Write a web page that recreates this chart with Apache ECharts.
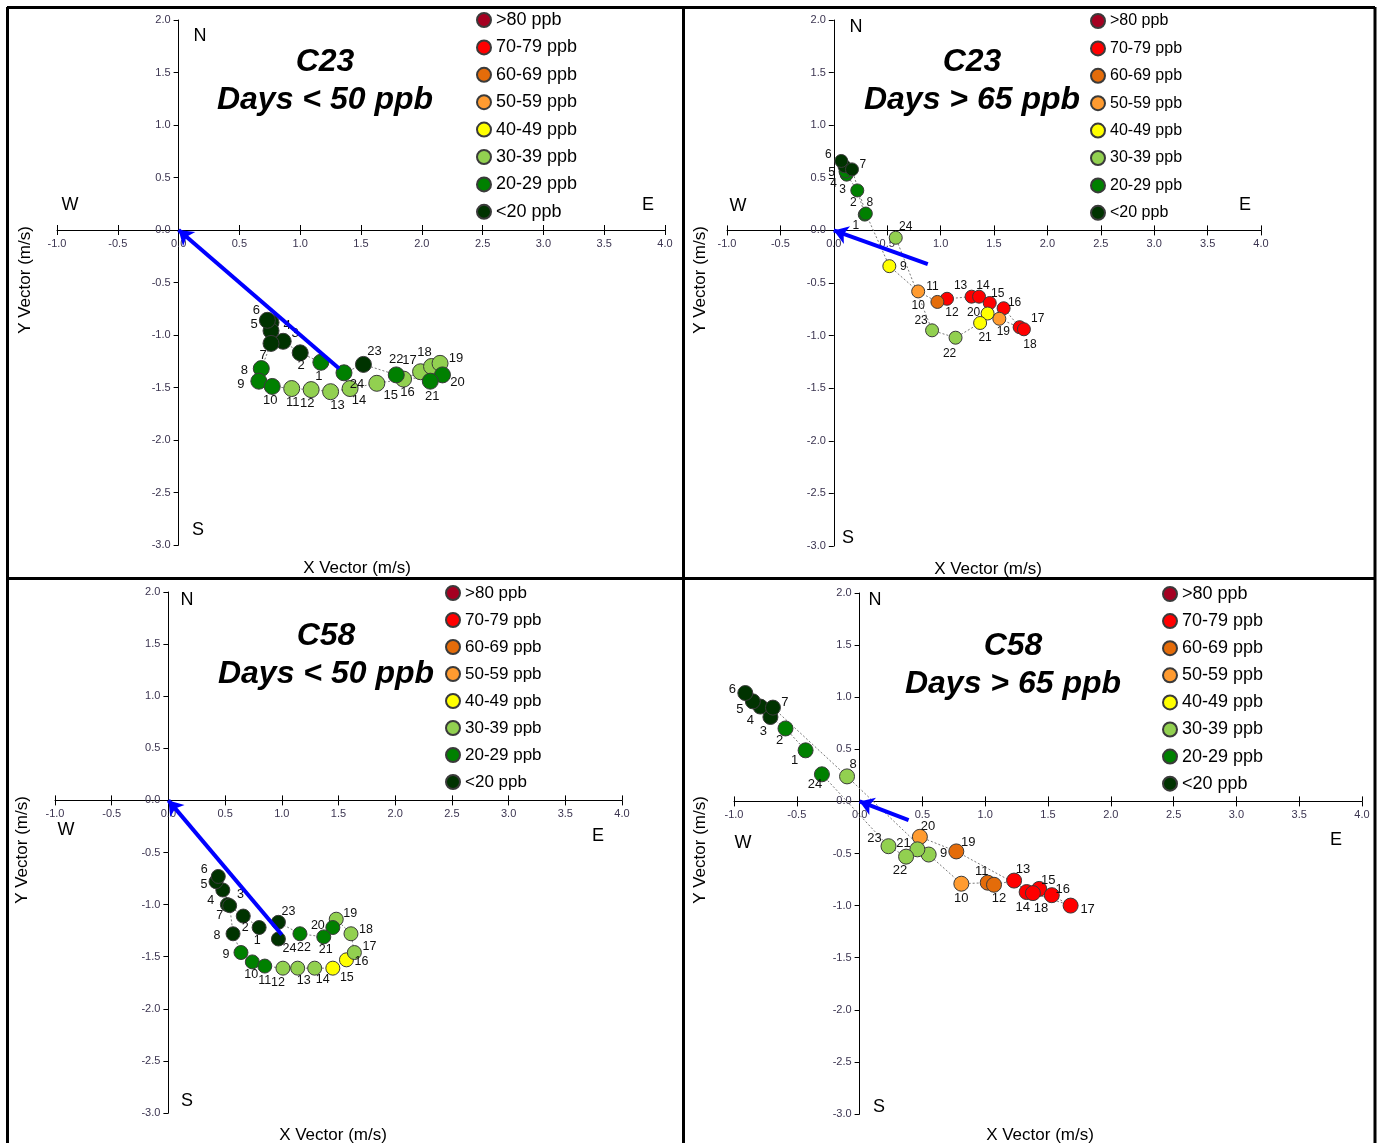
<!DOCTYPE html>
<html>
<head>
<meta charset="utf-8">
<title>C23 / C58 hourly wind vectors</title>
<script src="https://cdn.jsdelivr.net/npm/echarts@6/dist/echarts.min.js"></script>
<style>
  html, body { margin: 0; padding: 0; background: #fff; }
  #chart { width: 1380px; height: 1143px; }
</style>
</head>
<body>
<div id="chart"></div>
<script>
// Ozone concentration classes shown in every legend
const CATS = ['>80 ppb', '70-79 ppb', '60-69 ppb', '50-59 ppb', '40-49 ppb', '30-39 ppb', '20-29 ppb', '<20 ppb'];

// Hour of day for each vector point
const HOURS = [1, 2, 3, 4, 5, 6, 7, 8, 9, 10, 11, 12, 13, 14, 15, 16, 17, 18, 19, 20, 21, 22, 23, 24];

// Axis ranges (m/s)
const X_RANGE = [-1, 4];
const Y_RANGE = [-3, 2];

// C23, days < 50 ppb (x / y wind vector in m/s, class index into CATS)
const c23LowX = [1.17, 1.00, 0.86, 0.76, 0.76, 0.73, 0.76, 0.68, 0.66, 0.77, 0.93, 1.09, 1.25, 1.41, 1.63, 1.85, 1.99, 2.08, 2.15, 2.17, 2.07, 1.79, 1.52, 1.36];
const c23LowY = [-1.26, -1.17, -1.06, -0.88, -0.96, -0.86, -1.08, -1.32, -1.44, -1.49, -1.51, -1.52, -1.54, -1.51, -1.46, -1.42, -1.35, -1.30, -1.27, -1.38, -1.44, -1.38, -1.28, -1.36];
const c23LowCat = [6, 7, 7, 7, 7, 7, 7, 6, 6, 6, 5, 5, 5, 5, 5, 5, 5, 5, 5, 6, 6, 6, 7, 6];
const c23LowMean = [1.32, -1.32];

// C23, days > 65 ppb
const c23HighX = [0.29, 0.22, 0.12, 0.11, 0.10, 0.07, 0.17, 0.30, 0.52, 0.79, 0.97, 1.06, 1.29, 1.36, 1.46, 1.59, 1.74, 1.78, 1.55, 1.44, 1.37, 1.14, 0.92, 0.58];
const c23HighY = [0.15, 0.38, 0.53, 0.56, 0.61, 0.66, 0.58, 0.16, -0.34, -0.58, -0.68, -0.65, -0.63, -0.63, -0.69, -0.74, -0.92, -0.94, -0.84, -0.79, -0.88, -1.02, -0.95, -0.07];
const c23HighCat = [6, 6, 6, 6, 7, 7, 7, 6, 4, 3, 2, 1, 1, 1, 1, 1, 1, 1, 3, 4, 4, 5, 5, 5];
const c23HighMean = [0.88, -0.32];

// C58, days < 50 ppb
const c58LowX = [0.80, 0.66, 0.52, 0.48, 0.42, 0.44, 0.54, 0.57, 0.64, 0.74, 0.85, 1.01, 1.14, 1.29, 1.45, 1.57, 1.64, 1.61, 1.48, 1.45, 1.37, 1.16, 0.97, 0.97];
const c58LowY = [-1.22, -1.11, -1.00, -0.86, -0.78, -0.73, -1.01, -1.28, -1.46, -1.55, -1.59, -1.61, -1.61, -1.61, -1.61, -1.53, -1.46, -1.28, -1.14, -1.22, -1.31, -1.28, -1.17, -1.33];
const c58LowCat = [7, 7, 7, 7, 7, 7, 7, 7, 6, 6, 6, 5, 5, 5, 4, 4, 5, 5, 5, 6, 6, 6, 7, 7];
const c58LowMean = [1.00, -1.29];

// C58, days > 65 ppb
const c58HighX = [-0.43, -0.59, -0.71, -0.79, -0.85, -0.91, -0.69, -0.10, 0.55, 0.81, 1.02, 1.07, 1.23, 1.33, 1.43, 1.53, 1.68, 1.38, 0.77, 0.48, 0.46, 0.37, 0.23, -0.30];
const c58HighY = [0.49, 0.70, 0.81, 0.91, 0.96, 1.04, 0.90, 0.24, -0.51, -0.79, -0.78, -0.80, -0.76, -0.87, -0.84, -0.90, -1.00, -0.88, -0.48, -0.34, -0.46, -0.53, -0.43, 0.26];
const c58HighCat = [6, 6, 7, 7, 7, 7, 7, 5, 5, 3, 2, 2, 1, 1, 1, 1, 1, 1, 2, 3, 5, 5, 5, 6];
const c58HighMean = [0.39, -0.18];

// ---- styling ----
const CAT_COLORS = ['#A50021', '#FF0000', '#E46C0A', '#FF9B30', '#FFFF00', '#92D050', '#008000', '#003300'];
const NARROW = '"Liberation Sans Narrow", "Arial Narrow", "Liberation Sans", Arial, sans-serif';
const SANS = '"Liberation Sans", Arial, sans-serif';

// hour-label offsets (px from marker centre), keyed by hour
const OFF_C23_LOW = {1:[-2,14],2:[1,13],3:[12,-8],4:[16,3],5:[-17,-6],6:[-11,-10],7:[-8,12],8:[-17,2],9:[-18,3],10:[-2,14],11:[1,14],12:[-4,14],13:[7,14],14:[9,12],15:[14,12],16:[4,13],17:[-11,-11],18:[-7,-14],19:[16,-5],20:[15,8],21:[2,15],22:[0,-15],23:[11,-13],24:[13,12]};
const OFF_C23_HIGH = {1:[-9,11],2:[-4,12],3:[-4,15],4:[-12,12],5:[-13,6],6:[-13,-6],7:[11,-5],8:[4,-11],9:[14,1],10:[0,14],11:[-5,-15],12:[5,14],13:[-11,-11],14:[4,-11],15:[8,-9],16:[11,-6],17:[18,-8],18:[6,15],19:[4,13],20:[-14,-1],21:[5,15],22:[-6,16],23:[-11,-10],24:[10,-11]};
const OFF_C58_LOW = {1:[-2,13],2:[2,11],3:[13,-10],4:[-12,11],5:[-12,3],6:[-14,-7],7:[-10,10],8:[-16,2],9:[-15,2],10:[-1,13],11:[0,14],12:[-5,14],13:[6,12],14:[8,11],15:[14,9],16:[15,2],17:[15,-6],18:[15,-4],19:[14,-6],20:[-15,-2],21:[2,13],22:[4,14],23:[10,-11],24:[11,10]};
const OFF_C58_HIGH = {1:[-11,10],2:[-6,12],3:[-7,14],4:[-10,14],5:[-13,8],6:[-13,-4],7:[12,-5],8:[6,-12],9:[15,-1],10:[0,15],11:[-6,-11],12:[5,14],13:[9,-11],14:[-4,15],15:[9,-9],16:[11,-6],17:[17,4],18:[8,15],19:[12,-9],20:[8,-10],21:[-14,-6],22:[-6,14],23:[-14,-8],24:[-7,10]};

const panels = [
  { xs: c23LowX,  ys: c23LowY,  cats: c23LowCat,  mean: c23LowMean,  off: OFF_C23_LOW,
    grid: { left: 57, top: 20, width: 608, height: 525 }, size: 16, labelSize: 13,
    legend: { left: 476, top: 11, font: 18, gap: 9.4 },
    title: ['C23', 'Days < 50 ppb'], titleX: 325, titleY: [62, 100],
    compass: { N: [200, 36], W: [70, 205], E: [648, 205], S: [198, 530] },
    xName: [357, 568], yName: [25, 280] },
  { xs: c23HighX, ys: c23HighY, cats: c23HighCat, mean: c23HighMean, off: OFF_C23_HIGH,
    grid: { left: 727, top: 20, width: 534, height: 526 }, size: 13, labelSize: 12,
    legend: { left: 1090, top: 13, font: 16, gap: 11.4 },
    title: ['C23', 'Days > 65 ppb'], titleX: 972, titleY: [62, 100],
    compass: { N: [856, 27], W: [738, 206], E: [1245, 205], S: [848, 538] },
    xName: [988, 569], yName: [700, 280] },
  { xs: c58LowX,  ys: c58LowY,  cats: c58LowCat,  mean: c58LowMean,  off: OFF_C58_LOW,
    grid: { left: 55, top: 592, width: 567, height: 521 }, size: 14, labelSize: 12.5,
    legend: { left: 445, top: 584.5, font: 17, gap: 10 },
    title: ['C58', 'Days < 50 ppb'], titleX: 326, titleY: [636, 674],
    compass: { N: [187, 600], W: [66, 830], E: [598, 836], S: [187, 1101] },
    xName: [333, 1135], yName: [22, 850] },
  { xs: c58HighX, ys: c58HighY, cats: c58HighCat, mean: c58HighMean, off: OFF_C58_HIGH,
    grid: { left: 734, top: 593, width: 628, height: 521 }, size: 15, labelSize: 13,
    legend: { left: 1162, top: 585, font: 18, gap: 9.1 },
    title: ['C58', 'Days > 65 ppb'], titleX: 1013, titleY: [646, 684],
    compass: { N: [875, 600], W: [743, 843], E: [1336, 840], S: [879, 1107] },
    xName: [1040, 1135], yName: [700, 850] }
];

const grids = [], xAxes = [], yAxes = [], series = [], legends = [], graphics = [];
const tickLabel = { fontSize: 11, color: '#3b3450', fontFamily: NARROW, formatter: v => v.toFixed(1) };

panels.forEach((p, gi) => {
  grids.push(Object.assign({ containLabel: false, show: false }, p.grid));
  // axes cross at (0, 0): shift each axis from the grid edge to the zero line
  const xZeroFromBottom = (0 - Y_RANGE[0]) / (Y_RANGE[1] - Y_RANGE[0]) * p.grid.height;
  const yZeroFromLeft = (0 - X_RANGE[0]) / (X_RANGE[1] - X_RANGE[0]) * p.grid.width;
  xAxes.push({
    gridIndex: gi, type: 'value', min: X_RANGE[0], max: X_RANGE[1], interval: 0.5,
    position: 'bottom', offset: -xZeroFromBottom,
    axisLine: { onZero: false, lineStyle: { color: '#000', width: 1 } },
    axisTick: { show: true, length: 5, lineStyle: { color: '#000' } },
    axisLabel: Object.assign({ margin: 8 }, tickLabel),
    splitLine: { show: false }
  });
  yAxes.push({
    gridIndex: gi, type: 'value', min: Y_RANGE[0], max: Y_RANGE[1], interval: 0.5,
    position: 'left', offset: -yZeroFromLeft,
    axisLine: { onZero: false, lineStyle: { color: '#000', width: 1 } },
    axisTick: { show: true, length: 5, lineStyle: { color: '#000' } },
    axisLabel: Object.assign({ margin: 8 }, tickLabel),
    splitLine: { show: false }
  });

  // dotted path through the hours, plus the mean-vector arrow
  series.push({
    type: 'line', xAxisIndex: gi, yAxisIndex: gi, silent: true, z: 1,
    symbol: 'none', animation: false,
    data: p.xs.map((x, i) => [x, p.ys[i]]),
    lineStyle: { color: '#7a7a7a', width: 1, type: [2, 2] },
    markLine: {
      silent: true, animation: false, symbol: ['none', 'arrow'], symbolSize: 14,
      label: { show: false },
      lineStyle: { color: '#0000FF', width: 4, type: 'solid' },
      data: [[{ coord: p.mean }, { coord: [0, 0] }]]
    }
  });

  CATS.forEach((name, ci) => {
    const data = [], offs = [];
    HOURS.forEach((h, i) => {
      if (p.cats[i] !== ci) return;
      data.push([p.xs[i], p.ys[i], h]);
      offs.push(p.off[h] || [0, 12]);
    });
    series.push({
      type: 'scatter', name, xAxisIndex: gi, yAxisIndex: gi, z: 3,
      symbol: 'circle', symbolSize: p.size, animation: false,
      itemStyle: { color: CAT_COLORS[ci], borderColor: '#3a3a3a', borderWidth: 1, opacity: 1 },
      label: {
        show: true, position: 'inside', formatter: d => d.value[2],
        fontSize: p.labelSize, color: '#111', fontFamily: NARROW
      },
      labelLayout: params => ({ dx: offs[params.dataIndex][0], dy: offs[params.dataIndex][1], hideOverlap: false }),
      data
    });
  });

  legends.push({
    data: CATS, orient: 'vertical', left: p.legend.left, top: p.legend.top, padding: 0,
    icon: 'circle', itemWidth: 14, itemHeight: 14, itemGap: p.legend.gap,
    selectedMode: false,
    textStyle: { fontSize: p.legend.font, color: '#000', fontFamily: SANS }
  });

  // panel title
  p.title.forEach((t, k) => graphics.push({
    type: 'text', x: p.titleX, y: p.titleY[k], z: 10,
    style: { text: t, font: 'italic bold 32px ' + SANS, fill: '#000', textAlign: 'center', textVerticalAlign: 'middle' }
  }));
  // compass letters
  Object.keys(p.compass).forEach(k => graphics.push({
    type: 'text', x: p.compass[k][0], y: p.compass[k][1], z: 10,
    style: { text: k, font: '18px ' + SANS, fill: '#000', textAlign: 'center', textVerticalAlign: 'middle' }
  }));
  // axis names
  graphics.push({
    type: 'text', x: p.xName[0], y: p.xName[1], z: 10,
    style: { text: 'X Vector (m/s)', font: '17px ' + NARROW, fill: '#000', textAlign: 'center', textVerticalAlign: 'middle' }
  });
  graphics.push({
    type: 'text', x: p.yName[0], y: p.yName[1], rotation: Math.PI / 2, z: 10,
    style: { text: 'Y Vector (m/s)', font: '17px ' + NARROW, fill: '#000', textAlign: 'center', textVerticalAlign: 'middle' }
  });
});

// second x axis per panel, ticks only, so the x ticks cross the zero line
panels.forEach((p, gi) => {
  const xZeroFromBottom = (0 - Y_RANGE[0]) / (Y_RANGE[1] - Y_RANGE[0]) * p.grid.height;
  xAxes.push({
    gridIndex: gi, type: 'value', min: X_RANGE[0], max: X_RANGE[1], interval: 0.5,
    position: 'bottom', offset: -xZeroFromBottom,
    axisLine: { show: false, onZero: false },
    axisTick: { show: true, inside: true, length: 5, lineStyle: { color: '#000' } },
    axisLabel: { show: false },
    splitLine: { show: false }
  });
});

// panel frames
const frame = [[7, 7.5, 1375, 7.5], [7, 578.5, 1375, 578.5], [7.5, 7, 7.5, 1143], [683.5, 7, 683.5, 1143], [1375, 7, 1375, 1143]];
frame.forEach(f => graphics.push({
  type: 'line', z: 20, silent: true,
  shape: { x1: f[0], y1: f[1], x2: f[2], y2: f[3] },
  style: { stroke: '#000', lineWidth: 3 }
}));

const chart = echarts.init(document.getElementById('chart'), null, { renderer: 'canvas' });
chart.setOption({
  backgroundColor: '#fff',
  animation: false,
  grid: grids, xAxis: xAxes, yAxis: yAxes,
  legend: legends, series, graphic: graphics
});
</script>
</body>
</html>
